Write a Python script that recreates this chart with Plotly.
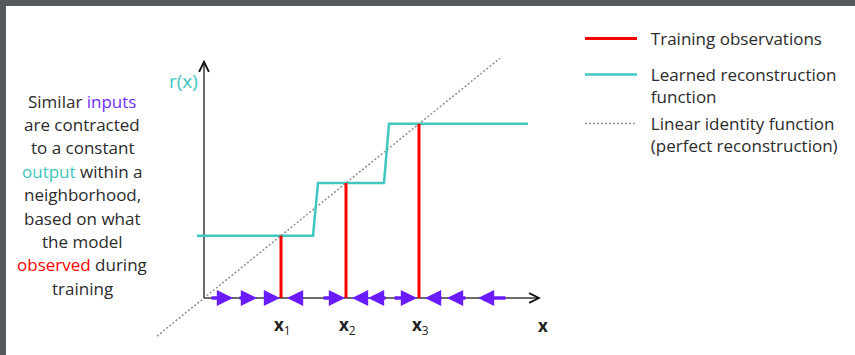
import plotly.graph_objects as go

# ---------------- data (diagram units: origin at axes corner, identity is y = x) ----------------
obs_x = [7.7, 14.2, 21.5]                       # training observations x1, x2, x3
obs_labels = ["<b>x</b><sub>1</sub>", "<b>x</b><sub>2</sub>", "<b>x</b><sub>3</sub>"]
recon_x = [-0.7, 10.9, 11.4, 18.0, 18.5, 32.4]  # learned reconstruction (step function)
recon_y = [7.7, 7.7, 14.2, 14.2, 21.5, 21.5]
ident_x = [-4.7, 29.6]                          # linear identity function
ident_y = [-4.7, 29.6]
xaxis_end = 33.7
yaxis_end = 29.4
flow_tail = [0.6, 3.4, 6.1, 9.9, 11.8, 16.4, 18.3, 18.9, 23.9, 26.3, 30.3]   # purple arrows on x axis
flow_tip = [2.9, 5.3, 7.6, 8.3, 14.1, 14.8, 16.4, 21.3, 22.1, 24.3, 27.4]

left_lines = [
    "Similar <span style='color:#7030ff'>inputs</span>",
    "are contracted",
    "to a constant",
    "<span style='color:#3ec6bd'>output</span> within a",
    "neighborhood,",
    "based on what",
    "the model",
    "<span style='color:#ff0000'>observed</span> during",
    "training",
]
legend_names = ["Training observations",
                "Learned reconstruction<br>function",
                "Linear identity function<br>(perfect reconstruction)"]

# ---------------- styling / layout helpers ----------------
W, H = 855, 355
OX, OY, SX, SY = 204, 298, 10.0, 8.1
def X(px): return (px - OX) / SX
def Y(py): return (OY - py) / SY
def PX(px): return (px - 6) / (W - 6)
def PY(py): return (H - py) / (H - 6)

RED = "#ff0000"
TEAL = "#40c8c0"
PURPLE = "#6a1cff"
AXIS = "#6b6b6b"
TXT = "#2b2b2b"
FONT = "Open Sans"
PAD = "\u00a0\u00a0"

def pad(name):
    return "<br>".join(PAD + s for s in name.split("<br>"))

fig = go.Figure()

# identity (dotted)
fig.add_trace(go.Scatter(x=ident_x, y=ident_y, mode="lines",
                         line=dict(color="#8f8f8f", width=1.5, dash="2px,2px"),
                         name=pad(legend_names[2]), legend="legend3", hoverinfo="skip"))
# axes
fig.add_trace(go.Scatter(x=[0, xaxis_end - 0.2], y=[0, 0], mode="lines",
                         line=dict(color=AXIS, width=2), showlegend=False, hoverinfo="skip"))
fig.add_trace(go.Scatter(x=[0, 0], y=[0, yaxis_end - 0.3], mode="lines",
                         line=dict(color=AXIS, width=2), showlegend=False, hoverinfo="skip"))
# reconstruction
fig.add_trace(go.Scatter(x=recon_x, y=recon_y, mode="lines",
                         line=dict(color=TEAL, width=2.5),
                         name=pad(legend_names[1]), legend="legend2", hoverinfo="skip"))
# training observations (vertical red lines)
rx, ry = [], []
for v in obs_x:
    rx += [v, v, None]
    ry += [0, v, None]
fig.add_trace(go.Scatter(x=rx, y=ry, mode="lines", line=dict(color=RED, width=3),
                         name=pad(legend_names[0]), legend="legend", hoverinfo="skip"))

ann = []
# axis arrowheads
ann.append(dict(x=xaxis_end, y=0, ax=xaxis_end - 0.6, ay=0, xref="x", yref="y", axref="x", ayref="y",
                showarrow=True, arrowhead=5, arrowwidth=1.6, arrowsize=1.2, arrowcolor="#111",
                text="", font=dict(size=1)))
ann.append(dict(x=0, y=yaxis_end, ax=0, ay=yaxis_end - 0.8, xref="x", yref="y", axref="x", ayref="y",
                showarrow=True, arrowhead=5, arrowwidth=1.6, arrowsize=1.2, arrowcolor="#111",
                text="", font=dict(size=1)))
# flow arrows
for t0, t1 in zip(flow_tail, flow_tip):
    ann.append(dict(x=t1, y=0, ax=t0, ay=0, xref="x", yref="y", axref="x", ayref="y",
                    showarrow=True, arrowhead=2, arrowwidth=3.6, arrowsize=0.9,
                    arrowcolor=PURPLE, text="", font=dict(size=1)))
# observation labels
for v, lab in zip(obs_x, obs_labels):
    ann.append(dict(x=v + 0.1, y=Y(325), xref="x", yref="y", text=lab, showarrow=False,
                    font=dict(family=FONT, size=17, color="#222")))
ann.append(dict(x=X(543), y=Y(325), xref="x", yref="y", text="<b>x</b>", showarrow=False,
                font=dict(family=FONT, size=17, color="#222")))
ann.append(dict(x=X(183), y=Y(81), xref="x", yref="y", text="r(x)", showarrow=False,
                font=dict(family=FONT, size=19, color="#3ec6bd")))
# left explanatory text
for i, line in enumerate(left_lines):
    ann.append(dict(x=X(82), y=Y(101 + 23.4 * i), xref="x", yref="y", text=line, showarrow=False,
                    font=dict(family=FONT, size=17, color=TXT)))

leg_common = dict(xanchor="left", yanchor="top", bgcolor="rgba(0,0,0,0)",
                  font=dict(family=FONT, size=17, color=TXT), itemwidth=52, valign="top")

fig.update_layout(
    width=W, height=H,
    margin=dict(l=6, t=6, r=0, b=0),
    paper_bgcolor="#54595e", plot_bgcolor="white",
    xaxis=dict(range=[X(6), X(W)], visible=False, fixedrange=True),
    yaxis=dict(range=[Y(H), Y(6)], visible=False, fixedrange=True),
    annotations=ann,
    showlegend=True,
    legend=dict(x=PX(580), y=PY(21), **leg_common),
    legend2=dict(x=PX(580), y=PY(57), **leg_common),
    legend3=dict(x=PX(580), y=PY(106), **leg_common),
)

fig.write_html("out.html", config={"displayModeBar": False},
               post_script="document.body.style.margin='0px';")
